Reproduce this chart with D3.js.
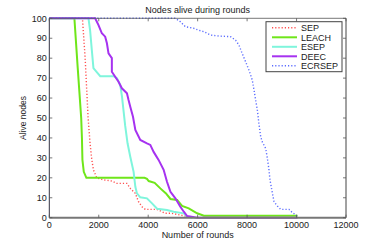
<!DOCTYPE html>
<html><head><meta charset="utf-8">
<script src="https://cdn.jsdelivr.net/npm/d3@7"></script>
<style>body{margin:0;background:#fff}svg{display:block}text{font-family:"Liberation Sans",Arial,sans-serif}</style>
</head><body>
<svg id="c" width="382" height="245"></svg>
<script>
const seriesNames = ["SEP","LEACH","ESEP","DEEC","ECRSEP"];
const xTicks = [0,2000,4000,6000,8000,10000,12000];
const yTicks = [0,10,20,30,40,50,60,70,80,90,100];
const sepData = [[0,100],[1340,100],[1450,80],[1570,50],[1650,37],[1720,29],[1785,24],[1920,20],[2190,19],[2530,18.4],[2735,17.2],[3140,17.2],[3275,14.7],[3480,12.2],[3610,8],[3750,5.5],[3880,4.2],[4350,4.2],[4690,2.2],[4960,2.2],[5500,0.8],[5800,0]];
const leachData = [[0,100],[1015,100],[1150,75],[1290,50],[1320,40],[1340,29],[1395,23],[1500,20],[3850,20],[3950,19.5],[4020,18.4],[4260,17.5],[4490,14.7],[4720,12.2],[4900,9.4],[5170,8.9],[5370,5.9],[5640,4.7],[5980,2.2],[6250,1],[10040,1]];
const esepData = [[0,100],[1585,100],[1650,94],[1720,84],[1785,75],[1920,73],[2060,71],[2600,71],[2735,70],[2870,66.5],[2940,60.7],[3000,54],[3070,46],[3165,37.3],[3275,30.6],[3410,23],[3480,15.5],[3545,12.2],[3680,10.2],[3950,9.7],[4155,7.2],[4360,4.5],[4760,3.9],[5030,3],[5440,2.2],[5575,0.5],[5800,0]];
const deecData = [[0,100],[1855,100],[1990,96.6],[2125,92.5],[2260,90.8],[2330,87.5],[2395,82.4],[2530,80],[2530,73.2],[2665,70.7],[2800,68.2],[2935,64.9],[3140,62.4],[3205,59],[3275,55.7],[3385,50.6],[3480,44],[3680,39],[3950,37.3],[4085,36.5],[4220,33],[4420,29],[4625,24],[4760,18],[4900,13],[5100,9.7],[5300,5.5],[5440,3],[5575,0.85],[5980,0],[10040,0]];
const ecrsepData = [[0,100],[5100,100],[5300,98.3],[5505,95.8],[5840,95],[6045,94],[6250,93.3],[6520,91.6],[6860,91.1],[7330,90.8],[7535,89],[7670,86.6],[7800,82.4],[7940,78.2],[8075,74],[8210,69],[8280,64],[8345,59],[8415,54],[8480,47],[8550,40.6],[8615,38],[8750,34.8],[8820,29.8],[8885,24],[8925,19],[9025,12.2],[9090,8],[9225,5.9],[9360,4.2],[9695,4.2],[9835,2.5],[9970,1.4],[10040,0.5]];

const allData = [sepData, leachData, esepData, deecData, ecrsepData];
const colors = ["#ff5050","#6fe61a","#7ff5dc","#a632f0","#5b6cff"];
const dashes = ["1.2,2","none","none","none","1.2,2"];
const widths = [1.4,2,2,2,1.4];

const svg = d3.select("#c");
const L=49.3, R=346, T=18.3, B=217.7;
const x = d3.scaleLinear().domain([0,12000]).range([L,R]);
const y = d3.scaleLinear().domain([0,100]).range([B,T]);

const line = d3.line().x(d=>x(d[0])).y(d=>y(d[1]));
allData.forEach((d,i)=>{
  svg.append("path").attr("d",line(d)).attr("fill","none")
    .attr("stroke",colors[i]).attr("stroke-width",widths[i])
    .attr("stroke-dasharray",dashes[i]);
});

const ax = svg.append("g");
ax.append("line").attr("x1",L).attr("x2",R).attr("y1",T).attr("y2",T).attr("stroke","#555").attr("stroke-width",0.8);
ax.append("line").attr("x1",R).attr("x2",R).attr("y1",T).attr("y2",B).attr("stroke","#444").attr("stroke-width",1);
ax.append("line").attr("x1",L).attr("x2",L).attr("y1",T).attr("y2",B).attr("stroke","#334").attr("stroke-width",1);
ax.append("line").attr("x1",L).attr("x2",R).attr("y1",B).attr("y2",B).attr("stroke","#777").attr("stroke-width",2);

xTicks.forEach(t=>{
  ax.append("line").attr("x1",x(t)).attr("x2",x(t)).attr("y1",B).attr("y2",B-3).attr("stroke","#555").attr("stroke-width",0.8);
  ax.append("line").attr("x1",x(t)).attr("x2",x(t)).attr("y1",T).attr("y2",T+3).attr("stroke","#555").attr("stroke-width",0.8);
  ax.append("text").attr("x",x(t)).attr("y",B+10.2).attr("text-anchor","middle").attr("font-size",9).attr("fill","#222").text(t);
});
yTicks.forEach(t=>{
  ax.append("line").attr("x1",L).attr("x2",L+3).attr("y1",y(t)).attr("y2",y(t)).attr("stroke","#555").attr("stroke-width",0.8);
  ax.append("line").attr("x1",R).attr("x2",R-3).attr("y1",y(t)).attr("y2",y(t)).attr("stroke","#555").attr("stroke-width",0.8);
  ax.append("text").attr("x",L-2.5).attr("y",y(t)+3.2).attr("text-anchor","end").attr("font-size",9).attr("fill","#222").text(t);
});

svg.append("text").attr("x",(L+R)/2).attr("y",12.5).attr("text-anchor","middle").attr("font-size",9).attr("fill","#222").text("Nodes alive during rounds");
svg.append("text").attr("x",(L+R)/2).attr("y",238).attr("text-anchor","middle").attr("font-size",9).attr("fill","#222").text("Number of rounds");
svg.append("text").attr("transform",`translate(25.5,${(T+B)/2}) rotate(-90)`).attr("text-anchor","middle").attr("font-size",8.5).attr("fill","#222").text("Alive nodes");

const lg = svg.append("g");
lg.append("rect").attr("x",266).attr("y",21.7).attr("width",76).attr("height",50).attr("fill","#fff").attr("stroke","#444").attr("stroke-width",1);
seriesNames.forEach((n,i)=>{
  const yy = 27.8 + i*9.5;
  lg.append("line").attr("x1",272).attr("x2",297).attr("y1",yy).attr("y2",yy)
    .attr("stroke",colors[i]).attr("stroke-width",widths[i]).attr("stroke-dasharray",dashes[i]);
  lg.append("text").attr("x",301).attr("y",yy+3.3).attr("font-size",9).attr("fill","#222").text(n);
});
</script>
</body></html>
